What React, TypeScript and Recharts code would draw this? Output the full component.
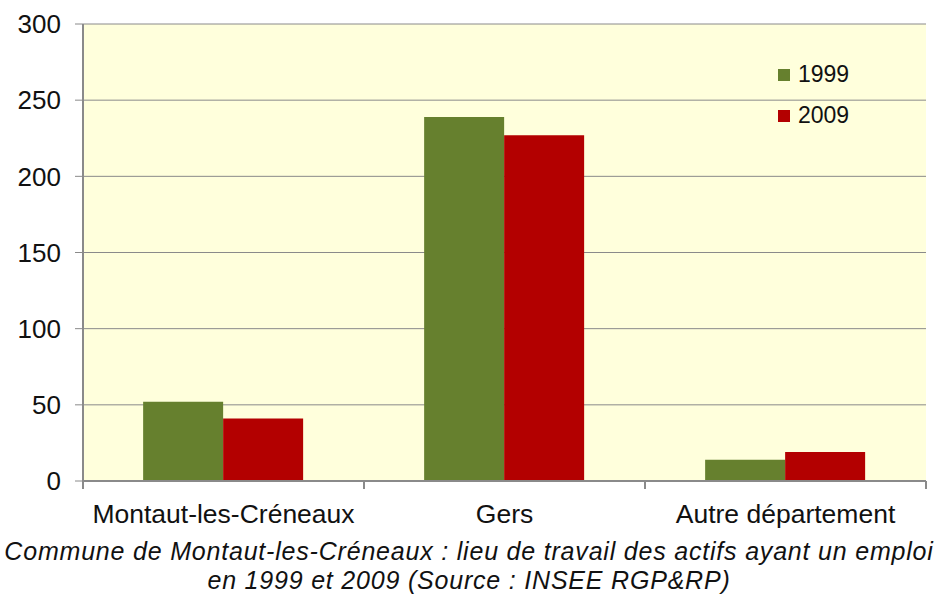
import { BarChart, Bar, XAxis, YAxis, CartesianGrid } from 'recharts';

const categories = ['Montaut-les-Créneaux', 'Gers', 'Autre département'];
const values1999 = [52, 239, 14];
const values2009 = [41, 227, 19];
const yTicks = [0, 50, 100, 150, 200, 250, 300];

const series = [
    { key: 'y1999', name: '1999', color: '#66802e' },
    { key: 'y2009', name: '2009', color: '#b30000' },
];

const data = categories.map((name, i) => ({
    name,
    y1999: values1999[i],
    y2009: values2009[i],
}));

const font = '"Liberation Sans", Arial, sans-serif';
const axisGray = '#8a8a8a';

// category label plus tick marks on the edges of each band
const CategoryTick = (props: any) => {
    const { x, y, payload, index, visibleTicksCount } = props;
    const half = payload?.offset ?? 0;
    const isLast = index === (visibleTicksCount ?? categories.length) - 1;
    return (
        <g>
            {half > 0 && <line x1={x - half} x2={x - half} y1={y} y2={y + 8} stroke={axisGray} strokeWidth={2} />}
            {half > 0 && isLast && <line x1={x + half} x2={x + half} y1={y} y2={y + 8} stroke={axisGray} strokeWidth={2} />}
            <text x={x} y={y + 23} dy="0.71em" textAnchor="middle" fontSize={26.5} fill="#111" fontFamily={font}>
                {payload.value}
            </text>
        </g>
    );
};

const App = () => {
    return (
        <div style={{ position: 'absolute', left: 0, top: 0, width: 938, height: 594, background: '#fff' }}>
            <BarChart
                width={938}
                height={530}
                data={data}
                margin={{ top: 24, right: 12, bottom: 0, left: 0 }}
                barCategoryGap="21.4%"
                barGap={0}
            >
                <CartesianGrid vertical={false} stroke={axisGray} fill="#ffffdc" fillOpacity={1} />
                <XAxis
                    dataKey="name"
                    height={49}
                    interval={0}
                    axisLine={{ stroke: axisGray, strokeWidth: 2 }}
                    tickLine={false}
                    tickSize={0}
                    tickMargin={0}
                    tick={<CategoryTick />}
                />
                <YAxis
                    domain={[0, 300]}
                    ticks={yTicks}
                    width={83}
                    tickSize={8}
                    tickMargin={14}
                    axisLine={{ stroke: axisGray, strokeWidth: 2 }}
                    tickLine={{ stroke: axisGray }}
                    tick={{ fontSize: 26, fill: '#111', fontFamily: font }}
                />
                <YAxis
                    yAxisId="right"
                    orientation="right"
                    domain={[0, 300]}
                    width={0}
                    tick={false}
                    tickLine={false}
                    axisLine={{ stroke: axisGray, strokeWidth: 2 }}
                />
                {series.map((s) => (
                    <Bar key={s.key} dataKey={s.key} name={s.name} fill={s.color} isAnimationActive={false} />
                ))}
            </BarChart>

            {/* legend */}
            <div style={{ position: 'absolute', top: 54, left: 778, fontFamily: font, fontSize: 23, color: '#111' }}>
                {series.map((s) => (
                    <div key={s.key} style={{ display: 'flex', alignItems: 'center', height: 41 }}>
                        <span style={{ width: 12, height: 12, background: s.color, marginRight: 8, display: 'inline-block' }}></span>
                        <span>{s.name}</span>
                    </div>
                ))}
            </div>

            <div
                style={{
                    fontFamily: font,
                    fontStyle: 'italic',
                    fontSize: 25,
                    letterSpacing: 0.8,
                    lineHeight: '29px',
                    textAlign: 'center',
                    color: '#111',
                    marginTop: 7,
                }}
            >
                Commune de Montaut-les-Créneaux : lieu de travail des actifs ayant un emploi
                <br />
                en 1999 et 2009 (Source : INSEE RGP&amp;RP)
            </div>
        </div>
    );
};

export default App;
